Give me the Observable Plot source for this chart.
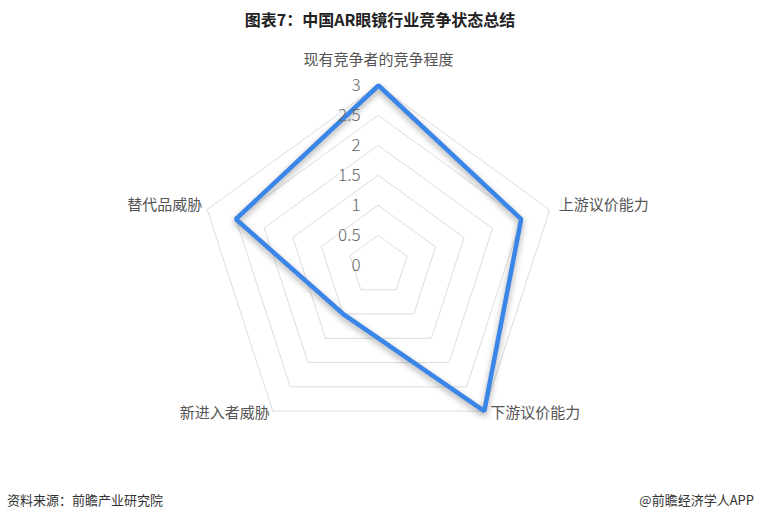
<!DOCTYPE html>
<html>
<head>
<meta charset="utf-8">
<script src="https://cdn.jsdelivr.net/npm/d3@7"></script>
<script src="https://cdn.jsdelivr.net/npm/@observablehq/plot@0.6"></script>
<style>
  body { margin: 0; background: #fff; font-family: "Noto Sans CJK SC", "Noto Sans", sans-serif; }
  #wrap { position: relative; width: 760px; height: 521px; overflow: hidden; }
  #wrap svg { position: absolute; left: 0; top: 0; }
  .title { position: absolute; top: 7px; left: 0; width: 760px; text-align: center; font-size: 16px; font-weight: bold; color: #222; }
  .src { position: absolute; top: 490px; left: 7px; font-size: 13px; color: #333; }
  .app { position: absolute; top: 490px; right: 6px; font-size: 13px; color: #333; }
</style>
</head>
<body>
<div id="wrap">
  <div class="title">图表7：中国AR眼镜行业竞争状态总结</div>
  <div class="src">资料来源：前瞻产业研究院</div>
  <div class="app">@前瞻经济学人APP</div>
</div>
<script>
const axes = ["现有竞争者的竞争程度", "上游议价能力", "下游议价能力", "新进入者威胁", "替代品威胁"];
const values = [3, 2.5, 3, 1, 2.5];
const levels = [0.5, 1, 1.5, 2, 2.5, 3];
const tickValues = [0, 0.5, 1, 1.5, 2, 2.5, 3];
const tickLabels = ["0", "0.5", "1", "1.5", "2", "2.5", "3"];
const maxValue = 3;

const ang = i => i * 2 * Math.PI / axes.length;
const px = (r, i) => r * Math.sin(ang(i));
const py = (r, i) => r * Math.cos(ang(i));

const rings = levels.flatMap(l => axes.map((a, i) => ({l, x: px(l, i), y: py(l, i)})));
const series = axes.map((a, i) => ({axis: a, x: px(values[i], i), y: py(values[i], i)}));
const labels = axes.map((a, i) => ({axis: a, i, x: px(maxValue, i), y: py(maxValue, i)}));
const ticks = tickValues.map((v, k) => ({x: 0, y: v, label: tickLabels[k]}));

// 60px per unit, centre at (378, 265)
const W = 760, H = 521, CX = 378, CY = 265, U = 60;

const labelFont = 15;
const lab = (idx, opts) => Plot.text(labels.filter(d => d.i === idx), {x: "x", y: "y", text: "axis", fill: "#555", fontSize: labelFont, ...opts});

const chart = Plot.plot({
  width: W, height: H, margin: 0,
  x: {domain: [-CX / U, (W - CX) / U], range: [0, W], axis: null},
  y: {domain: [-(H - CY) / U, CY / U], range: [H, 0], axis: null},
  style: {fontFamily: "'Noto Sans CJK SC', 'Noto Sans', sans-serif", background: "transparent"},
  marks: [
    Plot.line(rings, {x: "x", y: "y", z: "l", curve: "linear-closed", stroke: "#dcdcdc", strokeWidth: 1}),
    Plot.line(series, {x: "x", y: "y", curve: "linear-closed", stroke: "#3a85e8", strokeWidth: 4.5, strokeLinejoin: "miter", className: "radar-line"}),
    Plot.text(ticks, {x: "x", y: "y", text: "label", textAnchor: "end", dx: -18, fill: "#666", fontSize: 17, fontWeight: 300}),
    lab(0, {textAnchor: "middle", dy: -25}),
    lab(1, {textAnchor: "start", dx: 9, dy: -5}),
    lab(2, {textAnchor: "start", dx: 6, dy: 2}),
    lab(3, {textAnchor: "end", dx: -3, dy: 2}),
    lab(4, {textAnchor: "end", dx: -5, dy: -5})
  ]
});
document.getElementById("wrap").prepend(chart);
d3.select(chart).selectAll(".radar-line path").style("filter", "drop-shadow(0px 3px 3px rgba(0,0,0,0.35))");
</script>
</body>
</html>
